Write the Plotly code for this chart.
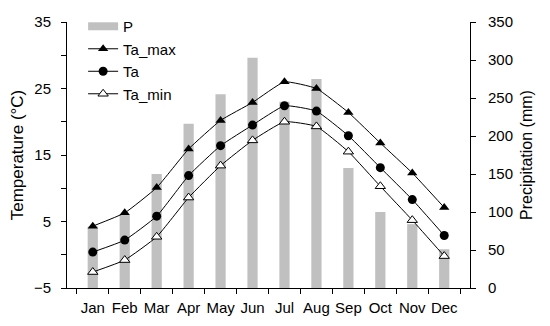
import plotly.graph_objects as go

months = ["Jan", "Feb", "Mar", "Apr", "May", "Jun", "Jul", "Aug", "Sep", "Oct", "Nov", "Dec"]
precip = [81, 96, 150, 216, 255, 303, 245, 275, 158, 100, 84, 51]
ta_max = [4.3, 6.3, 10.1, 15.9, 20.2, 22.9, 26.0, 25.0, 21.4, 16.8, 12.3, 7.1]
ta = [0.4, 2.2, 5.8, 11.9, 16.4, 19.5, 22.4, 21.6, 17.9, 13.1, 8.3, 2.9]
ta_min = [-2.6, -0.8, 2.7, 8.6, 13.4, 17.2, 20.0, 19.3, 15.5, 10.3, 5.2, -0.2]

FONT = "Liberation Sans, Arial, sans-serif"
BAR_COLOR = "#c0c0c0"

fig = go.Figure()
fig.add_trace(go.Bar(x=months, y=precip, name="P", yaxis="y", legendgroup="p",
                     showlegend=False,
                     marker=dict(color=BAR_COLOR, line=dict(width=0)), width=0.32))
# legend entry for P drawn as a wide grey block (like the reference)
fig.add_trace(go.Scatter(x=[None], y=[None], name="P", mode="lines", yaxis="y",
                         legendgroup="p", line=dict(color=BAR_COLOR, width=8)))
line = dict(color="black", width=1, shape="spline", smoothing=0.4)
fig.add_trace(go.Scatter(x=months, y=ta_max, name="Ta_max", mode="lines+markers", yaxis="y2",
                         legendgroup="a", line=line,
                         marker=dict(symbol="triangle-up", size=9, color="black")))
fig.add_trace(go.Scatter(x=months, y=ta, name="Ta", mode="lines+markers", yaxis="y2",
                         legendgroup="b", line=line,
                         marker=dict(symbol="circle", size=9, color="black")))
fig.add_trace(go.Scatter(x=months, y=ta_min, name="Ta_min", mode="lines+markers", yaxis="y2",
                         legendgroup="c", line=line,
                         marker=dict(symbol="triangle-up", size=9, color="white",
                                     line=dict(width=1, color="black"))))

fig.update_layout(
    width=542, height=318,
    margin=dict(l=59, r=80, t=14, b=38, autoexpand=False),
    plot_bgcolor="white", paper_bgcolor="white",
    font=dict(family=FONT, size=15, color="black"),
    showlegend=True,
    legend=dict(x=0.04, y=1.045, xanchor="left", yanchor="top", bgcolor="rgba(0,0,0,0)",
                font=dict(size=15), tracegroupgap=9, itemwidth=30, traceorder="normal"),
    xaxis=dict(type="category", showline=True, linecolor="black", linewidth=1,
               ticks="outside", tickson="boundaries", ticklen=5, tickcolor="black",
               showgrid=False, zeroline=False, tickfont=dict(size=15), tickangle=0,
               ticklabelstandoff=6, automargin=False),
    yaxis=dict(range=[0, 350], dtick=50, side="right", showline=True,
               linecolor="black", linewidth=1, ticks="outside", ticklen=5, tickcolor="black",
               showgrid=False, zeroline=False, automargin=False, ticklabelstandoff=9,
               title=dict(text="Precipitation (mm)", font=dict(size=16), standoff=8),
               tickfont=dict(size=15)),
    yaxis2=dict(range=[-5, 35], tick0=-5, dtick=10, overlaying="y", side="left",
                showline=True, linecolor="black", automargin=False,
                linewidth=1, ticks="outside", ticklen=5, tickcolor="black", showgrid=False,
                minor=dict(dtick=5, tick0=-5, ticks="outside", ticklen=5, tickcolor="black",
                           showgrid=False),
                ticklabelstandoff=7,
                zeroline=False, title=dict(text="Temperature (°C)", font=dict(size=17), standoff=7),
                tickfont=dict(size=15)),
    bargap=0.68,
)
fig.write_html("out.html")
